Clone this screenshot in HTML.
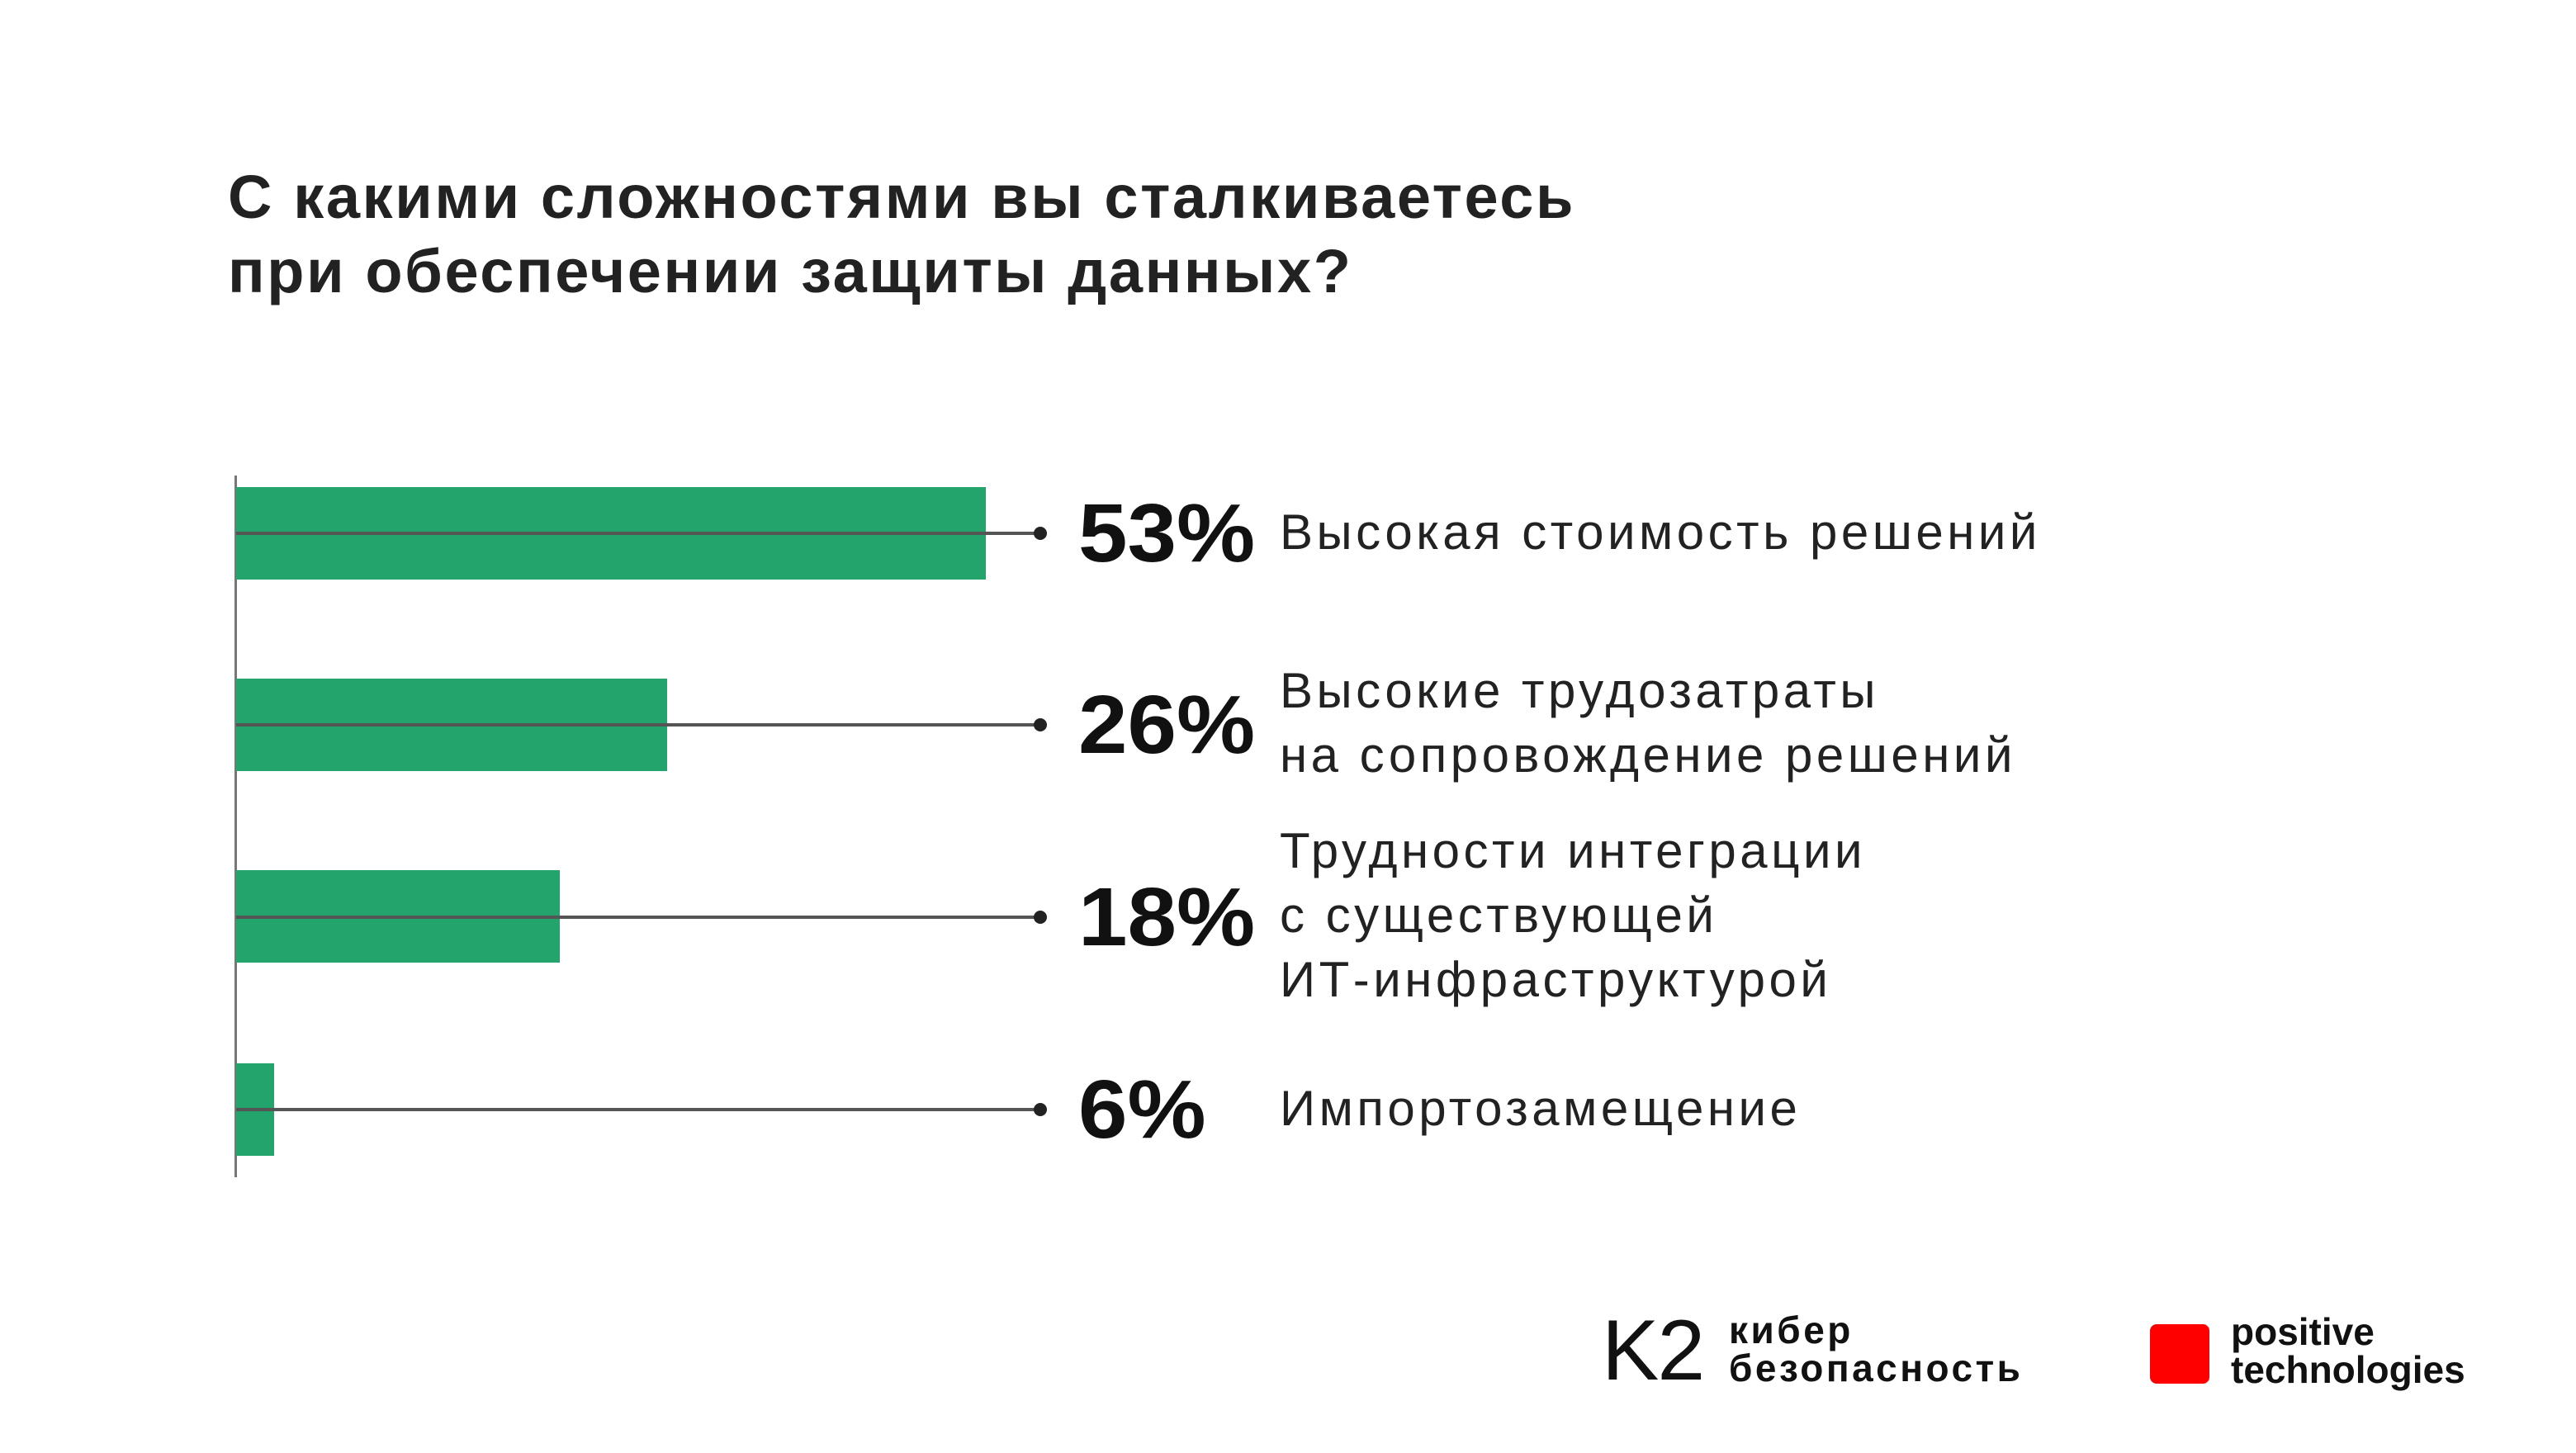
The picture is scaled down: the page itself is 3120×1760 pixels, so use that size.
<!DOCTYPE html>
<html><head><meta charset="utf-8"><style>
body{margin:0;width:3120px;height:1760px;background:#fff;position:relative;overflow:hidden;font-family:"Liberation Sans",sans-serif;color:#1a1a1a}
.t{position:absolute;left:276px;top:194px;font-size:74px;font-weight:bold;line-height:90px;color:#222;letter-spacing:2.6px}
.bar{position:absolute;left:286px;background:#23a46d;height:112px}
.ln{position:absolute;left:286px;width:974px;height:4px;background:#555}
.dot{position:absolute;left:1252px;width:16px;height:16px;border-radius:50%;background:#222}
.p{position:absolute;left:1306px;font-size:100px;font-weight:bold;line-height:100px;transform:scaleX(1.07);transform-origin:left;color:#111}
.l{position:absolute;left:1550px;font-size:60px;line-height:78px;color:#222;letter-spacing:4.5px}
</style></head><body>
<div class="t">С какими сложностями вы сталкиваетесь<br>при обеспечении защиты данных?</div>
<div style="position:absolute;left:284px;top:576px;width:3px;height:850px;background:#777"></div>

<div class="bar" style="top:590px;width:908px"></div>
<div class="bar" style="top:822px;width:522px"></div>
<div class="bar" style="top:1054px;width:392px"></div>
<div class="bar" style="top:1288px;width:46px"></div>

<div class="ln" style="top:644px"></div><div class="dot" style="top:638px"></div>
<div class="ln" style="top:876px"></div><div class="dot" style="top:870px"></div>
<div class="ln" style="top:1109px"></div><div class="dot" style="top:1103px"></div>
<div class="ln" style="top:1342px"></div><div class="dot" style="top:1336px"></div>

<div class="p" style="top:596px">53%</div>
<div class="p" style="top:828px">26%</div>
<div class="p" style="top:1061px">18%</div>
<div class="p" style="top:1294px">6%</div>

<div class="l" style="top:606px">Высокая стоимость решений</div>
<div class="l" style="top:798px">Высокие трудозатраты<br>на сопровождение решений</div>
<div class="l" style="top:992px">Трудности интеграции<br>с существующей<br>ИТ-инфраструктурой</div>
<div class="l" style="top:1304px">Импортозамещение</div>

<div style="position:absolute;left:1940px;top:1592px;font-size:104px;line-height:88px;color:#111;letter-spacing:-2px">K2</div>
<div style="position:absolute;left:2094px;top:1588px;font-size:46px;line-height:46px;color:#111;letter-spacing:3.5px;font-weight:bold">кибер<br>безопасность</div>
<div style="position:absolute;left:2604px;top:1604px;width:72px;height:72px;background:#f00;border-radius:8px"></div>
<div style="position:absolute;left:2702px;top:1590px;font-size:46px;line-height:46px;color:#111;font-weight:bold">positive<br>technologies</div>
</body></html>
